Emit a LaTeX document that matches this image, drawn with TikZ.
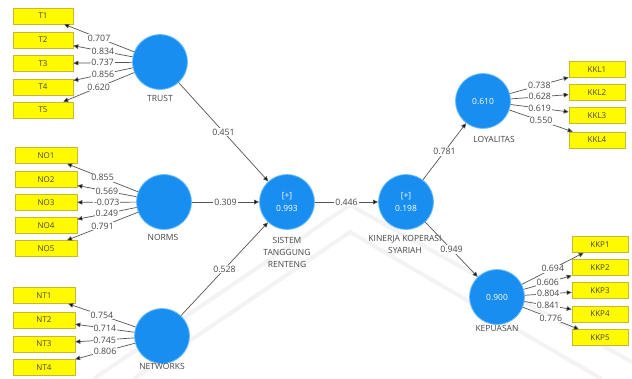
\documentclass[tikz,border=0pt]{standalone}
\usepackage{fontspec}
\setmainfont{Open Sans}
\usetikzlibrary{arrows.meta}
\definecolor{lvblue}{RGB}{24,142,240}
\definecolor{lvedge}{RGB}{110,190,250}
\definecolor{indyellow}{RGB}{255,250,0}
\definecolor{indedge}{RGB}{200,185,40}
\definecolor{labgray}{RGB}{70,70,70}
\definecolor{linegray}{RGB}{85,85,85}
\definecolor{wmark}{RGB}{243,243,245}
\begin{document}
\begin{tikzpicture}[x=1pt,y=-1pt,
  lv/.style={circle, fill=lvblue, draw=lvedge, line width=0.8pt, minimum size=55pt, inner sep=0pt, text=white, font=\fontsize{8.5}{13}\selectfont, align=center},
  ind/.style={rectangle, fill=indyellow, draw=indedge, line width=0.6pt, minimum height=16pt, inner sep=0pt, text=labgray, font=\fontsize{8}{8}\selectfont},
  indL/.style={ind, minimum width=60pt},
  indM/.style={ind, minimum width=62pt},
  indK/.style={ind, minimum width=56pt},
  indP/.style={ind, minimum width=56pt},
  lbl/.style={fill=white, inner sep=0.8pt, text=labgray, font=\fontsize{8.8}{9}\selectfont},
  capt/.style={text=labgray, font=\fontsize{8.5}{12}\selectfont, align=center},
  conn/.style={draw=linegray, line width=0.7pt, -{Triangle[length=5pt,width=4.5pt,fill=black]}},
  band/.style={draw=wmark, line width=4pt, line cap=round}
]
\useasboundingbox (0,0) rectangle (632,378);
\fill[white] (0,0) rectangle (632,378);
% faint watermark roof
\draw[band] (95,378) -- (350,205) -- (632,362);
\draw[band] (135,378) -- (350,232) -- (600,378);

% latent variables
\node[lv] (trust) at (160,62) {};
\node[lv] (norms) at (164,202) {};
\node[lv] (netw) at (162,336) {};
\node[lv] (sist) at (287,202) {[+]\\0.993};
\node[lv] (kin) at (406,202) {[+]\\0.198};
\node[lv] (loy) at (483,101) {0.610};
\node[lv] (kep) at (497,297) {0.900};

% captions
\node[capt] (ctrust) at (160,98) {TRUST};
\node[capt] (cnorms) at (163,237) {NORMS};
\node[capt] (cnetw) at (162,366) {NETWORKS};
\node[capt] (csist) at (287,252) {SISTEM\\TANGGUNG\\RENTENG};
\node[capt] (ckin) at (405,244) {KINERJA KOPERASI\\SYARIAH};
\node[capt] (cloy) at (494,139) {LOYALITAS};
\node[capt] (ckep) at (497,328) {KEPUASAN};

% indicators
\node[indL] (t1) at (43,16) {T1};
\node[indL] (t2) at (43,40) {T2};
\node[indL] (t3) at (43,63.5) {T3};
\node[indL] (t4) at (43,87) {T4};
\node[indL] (t5) at (43,110) {T5};

\node[indM] (no1) at (46,155.5) {NO1};
\node[indM] (no2) at (46,179.5) {NO2};
\node[indM] (no3) at (46,202.5) {NO3};
\node[indM] (no4) at (46,225.5) {NO4};
\node[indM] (no5) at (46,248.5) {NO5};

\node[indM] (nt1) at (44,295.5) {NT1};
\node[indM] (nt2) at (44,320) {NT2};
\node[indM] (nt3) at (44,344) {NT3};
\node[indM] (nt4) at (44,367.5) {NT4};

\node[indK] (kkl1) at (597,69.5) {KKL1};
\node[indK] (kkl2) at (597,92.5) {KKL2};
\node[indK] (kkl3) at (597,115.5) {KKL3};
\node[indK] (kkl4) at (597,140) {KKL4};

\node[indP] (kkp1) at (600,244.5) {KKP1};
\node[indP] (kkp2) at (600,267.5) {KKP2};
\node[indP] (kkp3) at (600,290.5) {KKP3};
\node[indP] (kkp4) at (600,314) {KKP4};
\node[indP] (kkp5) at (600,337.5) {KKP5};

% structural paths
\draw[conn] (trust) -- node[lbl] {0.451} (sist);
\draw[conn] (norms) -- node[lbl] {0.309} (sist);
\draw[conn] (netw) -- node[lbl] {0.528} (sist);
\draw[conn] (sist) -- node[lbl] {0.446} (kin);
\draw[conn] (kin) -- node[lbl] {0.781} (loy);
\draw[conn] (kin) -- node[lbl] {0.949} (kep);

% outer loadings
\draw[conn] (trust) -- node[lbl] {0.707} (t1);
\draw[conn] (trust) -- node[lbl] {0.834} (t2);
\draw[conn] (trust) -- node[lbl] {0.737} (t3);
\draw[conn] (trust) -- node[lbl] {0.856} (t4);
\draw[conn] (trust) -- node[lbl] {0.620} (t5);

\draw[conn] (norms) -- node[lbl] {0.855} (no1);
\draw[conn] (norms) -- node[lbl] {0.569} (no2);
\draw[conn] (norms) -- node[lbl] {-0.073} (no3);
\draw[conn] (norms) -- node[lbl] {0.249} (no4);
\draw[conn] (norms) -- node[lbl] {0.791} (no5);

\draw[conn] (netw) -- node[lbl] {0.754} (nt1);
\draw[conn] (netw) -- node[lbl] {0.714} (nt2);
\draw[conn] (netw) -- node[lbl] {0.745} (nt3);
\draw[conn] (netw) -- node[lbl] {0.806} (nt4);

\draw[conn] (loy) -- node[lbl] {0.738} (kkl1);
\draw[conn] (loy) -- node[lbl] {0.628} (kkl2);
\draw[conn] (loy) -- node[lbl] {0.619} (kkl3);
\draw[conn] (loy) -- node[lbl] {0.550} (kkl4);

\draw[conn] (kep) -- node[lbl] {0.694} (kkp1);
\draw[conn] (kep) -- node[lbl] {0.606} (kkp2);
\draw[conn] (kep) -- node[lbl] {0.804} (kkp3);
\draw[conn] (kep) -- node[lbl] {0.841} (kkp4);
\draw[conn] (kep) -- node[lbl] {0.776} (kkp5);
\end{tikzpicture}
\end{document}
